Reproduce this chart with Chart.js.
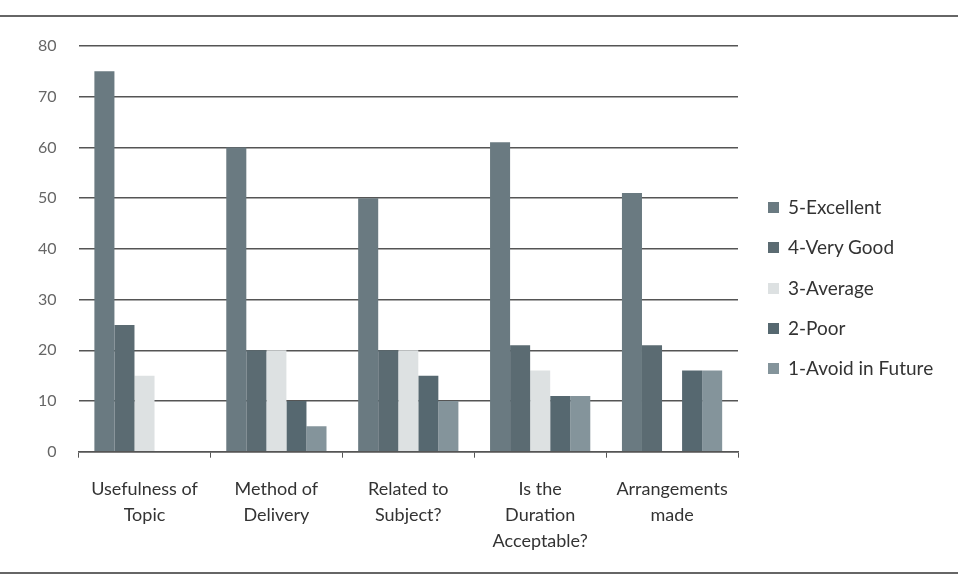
<!DOCTYPE html>
<html>
<head>
<meta charset="utf-8">
<script src="https://cdn.jsdelivr.net/npm/chart.js@4"></script>
<style>
  body { margin: 0; background: #fff; }
  #wrap { position: relative; width: 958px; height: 577px; }
  #legend { position: absolute; left: 768px; top: 195px; font: 19px Lato, sans-serif; color: #333; }
  #legend div { height: 40.3px; display: flex; align-items: flex-start; }
  #legend span.box { display: inline-block; width: 11px; height: 11px; margin: 7px 9px 0 0; }
  .frame { position: absolute; left: 0; width: 958px; height: 0; border-top: 2px solid #666; }
</style>
</head>
<body>
<div id="wrap">
  <div class="frame" style="top:15px"></div>
  <div class="frame" style="top:572px"></div>
  <canvas id="myChart" width="958" height="577"></canvas>
  <div id="legend"></div>
</div>
<script>
// categories
var categorias = [["Usefulness of", "Topic"], ["Method of", "Delivery"], ["Related to", "Subject?"], ["Is the", "Duration", "Acceptable?"], ["Arrangements", "made"]];

// series
var excelente = [75, 60, 50, 61, 51];
var muitoBom = [25, 20, 20, 21, 21];
var media = [15, 20, 20, 16, 0];
var ruim = [0, 10, 15, 11, 16];
var evitar = [0, 5, 10, 11, 16];

var nomes = ["5-Excellent", "4-Very Good", "3-Average", "2-Poor", "1-Avoid in Future"];
var cores = ['#6a7a81', '#5b6b72', '#dde1e2', '#566870', '#84949b'];

var series = [excelente, muitoBom, media, ruim, evitar];

var ctx = document.getElementById('myChart').getContext('2d');
var chart = new Chart(ctx, {
	type: 'bar',
	data: {
		labels: categorias,
		datasets: series.map(function (s, i) {
			return {
				label: nomes[i],
				data: s,
				backgroundColor: cores[i],
				borderWidth: 0,
				categoryPercentage: 0.76,
				barPercentage: 1.0
			};
		})
	},
	options: {
		responsive: false,
		animation: false,
		layout: { padding: { left: 16, right: 220, top: 46, bottom: 5 } },
		plugins: {
			legend: { display: false },
			tooltip: { enabled: false }
		},
		scales: {
			x: {
				grid: { drawOnChartArea: false, drawTicks: true, tickLength: 6, color: '#555', offset: true },
				border: { display: true, color: '#555', width: 1.5 },
				ticks: { color: '#333', padding: 18, font: { family: 'Lato', size: 18, lineHeight: 1.45 }, maxRotation: 0 }
			},
			y: {
				min: 0,
				max: 80,
				ticks: { stepSize: 10, color: '#666', padding: 22, font: { family: 'Lato', size: 16 } },
				grid: { color: '#555', lineWidth: 1.4, drawTicks: false },
				border: { display: false }
			}
		}
	}
});

// legenda
var leg = document.getElementById('legend');
chart.data.datasets.forEach(function (d) {
	var row = document.createElement('div');
	row.innerHTML = '<span class="box" style="background:' + d.backgroundColor + '"></span>' + d.label;
	leg.appendChild(row);
});
</script>
</body>
</html>
